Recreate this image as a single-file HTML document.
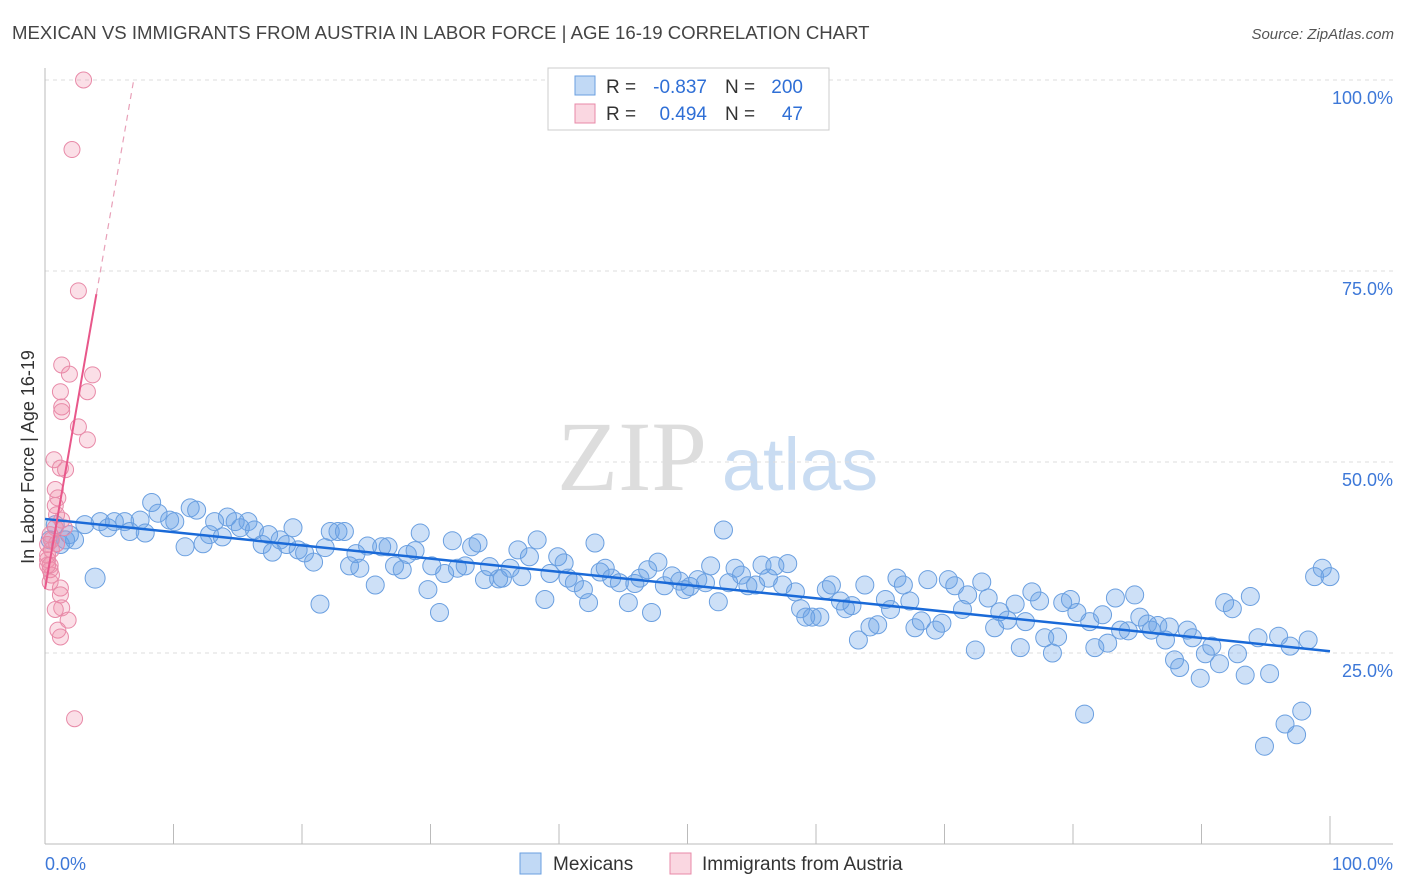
<!DOCTYPE html>
<html><head><meta charset="utf-8"><style>
body{margin:0;background:#fff;font-family:"Liberation Sans",sans-serif;}
#wrap{position:relative;width:1406px;height:892px;overflow:hidden;}
</style></head><body>
<div id="wrap">
<svg id="svg" width="1406" height="892" xmlns="http://www.w3.org/2000/svg">
<text x="12" y="39" font-size="18.6" fill="#444">MEXICAN VS IMMIGRANTS FROM AUSTRIA IN LABOR FORCE | AGE 16-19 CORRELATION CHART</text>
<text x="1394" y="39" font-size="15" fill="#555" font-style="italic" text-anchor="end">Source: ZipAtlas.com</text>
<g>
<text x="632" y="490" font-size="100" fill="#ddd" font-family="Liberation Serif,serif" text-anchor="middle">ZIP</text>
<text x="800" y="490" font-size="74" fill="#c9dcf2" text-anchor="middle">atlas</text>
</g>
<text transform="translate(34,457) rotate(-90)" font-size="18" fill="#333" text-anchor="middle">In Labor Force | Age 16-19</text>
<g id="grid"></g>
<g id="axes"></g>
<g id="marks"></g>
<g>
<rect x="548" y="68" width="281" height="62" fill="#fff" stroke="#ccc"/>
<rect x="575" y="76" width="20" height="19" fill="rgba(100,160,230,0.4)" stroke="#6a9fe0"/>
<rect x="575" y="104" width="20" height="19" fill="rgba(240,140,170,0.35)" stroke="#e88aa8"/>
<text x="606" y="93" font-size="19" fill="#333">R =</text>
<text x="707" y="93" font-size="19" fill="#2f6fd6" text-anchor="end">-0.837</text>
<text x="725" y="93" font-size="19" fill="#333">N =</text>
<text x="803" y="93" font-size="19" fill="#2f6fd6" text-anchor="end">200</text>
<text x="606" y="120" font-size="19" fill="#333">R =</text>
<text x="707" y="120" font-size="19" fill="#2f6fd6" text-anchor="end">0.494</text>
<text x="725" y="120" font-size="19" fill="#333">N =</text>
<text x="803" y="120" font-size="19" fill="#2f6fd6" text-anchor="end">47</text>
</g>
<g>
<rect x="520" y="853" width="21" height="21" fill="rgba(100,160,230,0.4)" stroke="#6a9fe0"/>
<text x="553" y="870" font-size="19" fill="#333">Mexicans</text>
<rect x="670" y="853" width="21" height="21" fill="rgba(240,140,170,0.35)" stroke="#e88aa8"/>
<text x="702" y="870" font-size="19" fill="#333">Immigrants from Austria</text>
</g>
</svg>
</div>
<script>
const blueX=[0.4,0.8,1.2,1.6,1.9,2.3,3.1,3.9,4.3,4.9,5.4,6.2,6.6,7.4,7.8,8.3,8.8,9.7,10.1,10.9,11.3,11.8,12.3,12.8,13.2,13.8,14.2,14.8,15.2,15.8,16.3,16.9,17.4,17.7,18.3,18.8,19.3,19.7,20.2,20.9,21.4,21.8,22.2,22.8,23.3,23.7,24.2,24.5,25.1,25.7,26.2,26.7,27.2,27.8,28.2,28.8,29.2,29.8,30.1,30.7,31.1,31.7,32.1,32.7,33.2,33.7,34.2,34.6,35.3,35.6,36.2,36.8,37.1,37.7,38.3,38.9,39.3,39.9,40.4,40.7,41.2,41.9,42.3,42.8,43.2,43.6,44.1,44.7,45.4,45.9,46.3,46.9,47.2,47.7,48.2,48.8,49.4,49.8,50.2,50.8,51.4,51.8,52.4,52.8,53.2,53.7,54.2,54.7,55.3,55.8,56.3,56.8,57.4,57.8,58.4,58.8,59.2,59.7,60.3,60.8,61.2,61.9,62.3,62.8,63.3,63.8,64.2,64.8,65.4,65.8,66.3,66.8,67.3,67.7,68.2,68.7,69.3,69.8,70.3,70.8,71.4,71.8,72.4,72.9,73.4,73.9,74.3,74.9,75.5,75.9,76.3,76.8,77.4,77.8,78.4,78.8,79.2,79.8,80.3,80.9,81.3,81.7,82.3,82.7,83.3,83.7,84.3,84.8,85.2,85.8,86.1,86.6,87.2,87.5,87.9,88.3,88.9,89.3,89.9,90.3,90.8,91.4,91.8,92.4,92.8,93.4,93.8,94.4,94.9,95.3,96.0,96.5,96.9,97.4,97.8,98.3,98.8,99.4,100];
const blueY=[39.8,41.8,39.2,39.8,40.5,39.8,41.8,34.8,42.2,41.4,42.2,42.2,40.9,42.4,40.7,44.7,43.3,42.4,42.2,38.9,44.0,43.7,39.3,40.5,42.2,40.2,42.8,42.2,41.4,42.2,41.1,39.2,40.5,38.2,39.8,39.2,41.4,38.5,38.1,36.9,31.4,38.8,40.9,40.9,40.9,36.4,38.0,36.1,39.0,33.9,38.9,38.9,36.4,35.9,37.9,38.4,40.7,33.3,36.4,30.3,35.4,39.7,36.1,36.4,38.9,39.4,34.6,36.3,34.7,34.8,36.1,38.5,35.0,37.6,39.8,32.0,35.4,37.6,36.8,34.8,34.2,33.3,31.6,39.4,35.6,36.1,34.8,34.2,31.6,34.1,34.8,35.9,30.3,36.9,33.8,35.1,34.4,33.3,33.7,34.6,34.2,36.4,31.7,41.1,34.2,36.1,35.2,33.8,33.9,36.5,34.8,36.4,33.9,36.7,33.0,30.8,29.7,29.7,29.7,33.3,33.9,31.8,30.8,31.2,26.7,33.9,28.4,28.7,32.0,30.7,34.8,33.9,31.8,28.3,29.2,34.6,28.0,28.9,34.6,33.8,30.7,32.6,25.4,34.3,32.2,28.3,30.4,29.3,31.4,25.7,29.1,33.0,31.8,27.0,25.0,27.1,31.6,32.0,30.3,17.0,29.1,25.7,30.0,26.3,32.2,28.0,27.9,32.6,29.7,28.8,28.0,28.6,26.7,28.4,24.1,23.1,28.0,27.0,21.7,24.9,25.9,23.6,31.6,30.8,24.9,22.1,32.4,27.0,12.8,22.3,27.2,15.7,25.9,14.3,17.4,26.7,35.0,36.1,35.0];
const pinkX=[3.0,2.1,2.6,1.3,1.9,3.7,1.3,1.2,3.3,1.3,2.6,3.3,0.7,1.2,1.6,0.8,1.0,0.8,0.9,1.3,0.8,0.4,0.2,0.5,0.2,0.4,0.5,1.2,1.2,1.3,1.8,0.8,1.0,1.2,2.3,0.4,0.2,0.5,0.9,1.5,0.4,0.2];
const pinkY=[100,90.9,72.4,62.7,61.5,61.4,57.2,59.2,59.2,56.6,54.6,52.9,50.3,49.2,49.0,46.4,45.3,44.3,43.1,42.4,41.4,40.5,39.2,38.5,37.2,35.9,35.2,33.5,32.6,30.9,29.3,30.7,28.0,27.1,16.4,36.5,37.8,39.8,39.3,41.4,34.3,36.5];
const yTicks=[25,50,75,100];
const xTickCount=10;
const NS="http://www.w3.org/2000/svg";
const X0=45,X1=1330,Y0=844,Y1=80;
function sx(v){return X0+(X1-X0)*v/100;}
function sy(v){return Y0-(Y0-Y1)*v/100;}
function mk(tag,attrs,parent){const e=document.createElementNS(NS,tag);for(const k in attrs)e.setAttribute(k,attrs[k]);parent.appendChild(e);return e;}
const grid=document.getElementById('grid'),axes=document.getElementById('axes'),marks=document.getElementById('marks');
yTicks.forEach(t=>{
  const l=mk('line',{x1:X0,x2:1393,y1:sy(t),y2:sy(t),stroke:'#ddd','stroke-dasharray':'4,4'},grid);
  
  
  const tx=mk('text',{x:1393,y:sy(t)+24,'font-size':18,fill:'#3d78d8','text-anchor':'end'},axes);
  tx.textContent=t.toFixed(1)+'%';
  
  
});
const xa=mk('line',{x1:X0,x2:1393,y1:Y0,y2:Y0,stroke:'#bbb'},axes);


const ya=mk('line',{x1:X0,x2:X0,y1:68,y2:Y0,stroke:'#bbb'},axes);


for(let i=1;i<=xTickCount;i++){
  const tk=mk('line',{x1:sx(i*10),x2:sx(i*10),y1:Y0,y2:i==xTickCount?816:824,stroke:'#bbb'},axes);
  
  
}
const xl0=mk('text',{x:X0,y:870,'font-size':18,fill:'#3d78d8'},axes);xl0.textContent='0.0%';


const xl1=mk('text',{x:1393,y:870,'font-size':18,fill:'#3d78d8','text-anchor':'end'},axes);xl1.textContent='100.0%';


function reg(xs,ys){const n=xs.length;let mx=0,my=0;for(let i=0;i<n;i++){mx+=xs[i];my+=ys[i];}mx/=n;my/=n;let a=0,b=0;for(let i=0;i<n;i++){a+=(xs[i]-mx)*(ys[i]-my);b+=(xs[i]-mx)**2;}const s=a/b;return [s,my-s*mx];}
blueX.forEach((x,i)=>{
  const c=mk('circle',{cx:sx(x),cy:sy(blueY[i]),r:i==7?10:9,fill:'rgba(100,160,230,0.32)',stroke:'#6a9fe0','stroke-width':1},marks);
  
  
});
pinkX.forEach((x,i)=>{
  const c=mk('circle',{cx:sx(x),cy:sy(pinkY[i]),r:8,fill:'rgba(240,140,170,0.28)',stroke:'#e88aa8','stroke-width':1},marks);
  
  
});
const [bs,bi]=reg(blueX,blueY);
const bl=mk('line',{x1:sx(0),y1:sy(bi),x2:sx(100),y2:sy(bs*100+bi),stroke:'#1a6ad8','stroke-width':2.5},marks);


const [ps,pi]=reg(pinkX,pinkY);
const pmax=Math.max(...pinkX)+0.3;
const pl=mk('line',{x1:sx(0),y1:sy(pi),x2:sx(pmax),y2:sy(ps*pmax+pi),stroke:'#e8578a','stroke-width':2},marks);


const xEnd=(100-pi)/ps;
const pd=mk('line',{x1:sx(pmax),y1:sy(ps*pmax+pi),x2:sx(xEnd),y2:sy(100),stroke:'#e8a0b8','stroke-width':1.2,'stroke-dasharray':'6,5'},marks);


</script>
</body></html>
